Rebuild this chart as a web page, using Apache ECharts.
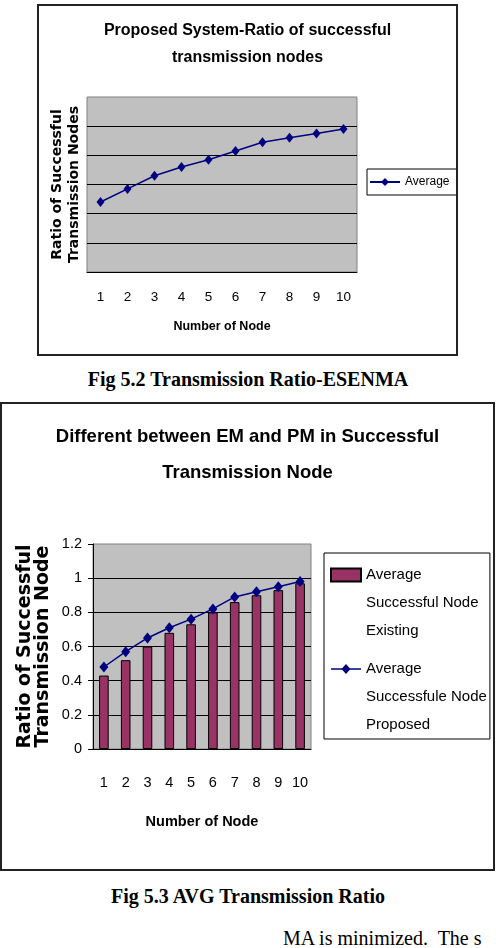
<!DOCTYPE html>
<html>
<head>
<meta charset="utf-8">
<script src="https://cdn.jsdelivr.net/npm/echarts@6/dist/echarts.min.js"></script>
<style>
  html, body { margin: 0; padding: 0; background: #fff; }
  body { width: 496px; height: 948px; position: relative; overflow: hidden; }
  .box { position: absolute; border: 2px solid #222; box-sizing: border-box; background: #fff; }
  #chart1 { left: 37px; top: 4px; width: 421px; height: 352px; }
  #chart2 { left: 0; top: 402px; width: 495px; height: 469px; }
  .caption {
    position: absolute; left: 0; width: 496px; text-align: center;
    font-family: "Liberation Serif", "Times New Roman", serif;
    font-weight: bold; font-size: 20px; line-height: 24px;
  }
  #cap1 { top: 367px; }
  #cap2 { top: 884px; }
  #bodytext {
    position: absolute; left: 283px; top: 926px; white-space: nowrap;
    font-family: "Liberation Serif", "Times New Roman", serif; font-size: 20px; line-height: 24px;
  }
</style>
</head>
<body>
<div id="chart1" class="box"></div>
<div id="cap1" class="caption">Fig 5.2 Transmission Ratio-ESENMA</div>
<div id="chart2" class="box"></div>
<div id="cap2" class="caption">Fig 5.3 AVG Transmission Ratio</div>
<div id="bodytext">MA is minimized.&nbsp; The s</div>
<script>
// 横轴：节点编号
const nodeLabels = ['1', '2', '3', '4', '5', '6', '7', '8', '9', '10'];

// Fig 5.2 提出方案的平均成功率
const proposedAverage = [0.48, 0.57, 0.66, 0.72, 0.77, 0.83, 0.89, 0.92, 0.95, 0.98];

// Fig 5.3 现有方案 / 提出方案
const existingSuccess = [0.43, 0.52, 0.60, 0.68, 0.73, 0.80, 0.86, 0.90, 0.93, 0.97];
const proposedSuccess = [0.48, 0.57, 0.65, 0.71, 0.76, 0.82, 0.89, 0.92, 0.95, 0.98];

// 纵轴范围
const yMin = 0;
const yMax = 1.2;
const yStep = 0.2;

// 字体（没有窄体字，用 Liberation Sans 缩小字号代替）
const sans = '"Liberation Sans", Arial, sans-serif';
const wideBold = '"DejaVu Sans", Verdana, sans-serif';

const lineColor = '#000080';
const barColor = '#993366';
const plotBg = '#c0c0c0';

/**
 * 图1：Proposed System-Ratio of successful transmission nodes
 */
const chart1 = echarts.init(document.getElementById('chart1'), null, { renderer: 'canvas' });
chart1.setOption({
  animation: false,
  title: {
    text: 'Proposed System-Ratio of successful\ntransmission nodes',
    left: 'center',
    top: 11,
    padding: 0,
    textStyle: { fontFamily: sans, fontSize: 16, fontWeight: 'bold', lineHeight: 27, color: '#000' }
  },
  legend: {
    data: ['Average'],
    orient: 'vertical',
    left: 328,
    top: 163,
    padding: [7, 8, 7, 2],
    itemWidth: 30,
    itemHeight: 10,
    borderColor: '#000',
    borderWidth: 1,
    backgroundColor: '#fff',
    textStyle: { fontFamily: sans, fontSize: 12, color: '#000' }
  },
  grid: {
    left: 48, top: 91, width: 270, height: 175,
    show: true, backgroundColor: plotBg, borderColor: '#808080', borderWidth: 1
  },
  xAxis: {
    type: 'category',
    data: nodeLabels,
    name: 'Number of Node',
    nameLocation: 'middle',
    nameGap: 48,
    nameTextStyle: { fontFamily: sans, fontSize: 12.5, fontWeight: 'bold', color: '#000' },
    axisLine: { lineStyle: { color: '#000', width: 1 } },
    axisTick: { length: 5, lineStyle: { color: '#000' } },
    axisLabel: { interval: 0, margin: 18, fontFamily: sans, fontSize: 13.5, color: '#000' }
  },
  yAxis: {
    type: 'value',
    min: yMin, max: yMax, interval: yStep,
    name: 'Ratio of Successful\nTransmission Nodes',
    nameLocation: 'middle',
    nameGap: 4,
    nameTextStyle: { fontFamily: wideBold, fontSize: 14, fontWeight: 'bold', lineHeight: 17, color: '#000' },
    axisLine: { show: false },
    axisTick: { show: false },
    axisLabel: { show: false },
    splitLine: { show: true, showMinLine: false, showMaxLine: false, lineStyle: { color: '#000', width: 1.2 } }
  },
  series: [{
    name: 'Average',
    type: 'line',
    data: proposedAverage,
    symbol: 'diamond',
    symbolSize: [8, 10],
    lineStyle: { color: lineColor, width: 1.5 },
    itemStyle: { color: lineColor, borderWidth: 0 }
  }]
});

/**
 * 图2：Different between EM and PM in Successful Transmission Node
 * 图例文字三行，图标要对齐第一行，所以用自定义 path 图标（高度与三行文字相同）
 */
const legendLine = 28;
const legendItemH = legendLine * 3;
const barIcon = 'path://M0,0M0,' + legendItemH + 'M0,7.5H30V20.5H0Z';
const lineIcon = 'path://M0,0M0,' + legendItemH + 'M0,13.25H30V14.75H0Z M15,9L19.5,14L15,19L10.5,14Z';

const chart2 = echarts.init(document.getElementById('chart2'), null, { renderer: 'canvas' });
chart2.setOption({
  animation: false,
  title: {
    text: 'Different between EM and PM in Successful\nTransmission Node',
    left: 'center',
    top: 15,
    padding: 0,
    textStyle: { fontFamily: sans, fontSize: 18.5, fontWeight: 'bold', lineHeight: 36, color: '#000' }
  },
  legend: {
    orient: 'vertical',
    left: 322,
    top: 149,
    padding: [7, 3, 0, 6],
    itemGap: 9,
    itemWidth: 30,
    itemHeight: legendItemH,
    borderColor: '#000',
    borderWidth: 1,
    backgroundColor: '#fff',
    data: [
      { name: 'Average Successful Node Existing', icon: barIcon },
      { name: 'Average Successfule Node Proposed', icon: lineIcon }
    ],
    formatter: function (name) {
      // 按原图拆成三行
      const parts = name.split(' ');
      return parts[0] + '\n' + parts[1] + ' ' + parts[2] + '\n' + parts[3];
    },
    textStyle: { fontFamily: sans, fontSize: 15, color: '#000', lineHeight: legendLine }
  },
  grid: {
    left: 91, top: 140, width: 218, height: 205,
    show: true, backgroundColor: plotBg, borderColor: '#808080', borderWidth: 1
  },
  xAxis: {
    type: 'category',
    data: nodeLabels,
    name: 'Number of Node',
    nameLocation: 'middle',
    nameGap: 65,
    nameTextStyle: { fontFamily: sans, fontSize: 14.5, fontWeight: 'bold', color: '#000' },
    axisLine: { lineStyle: { color: '#000', width: 1 } },
    axisTick: { length: 5, lineStyle: { color: '#000' } },
    axisLabel: { interval: 0, margin: 26, fontFamily: sans, fontSize: 14.5, color: '#000' }
  },
  yAxis: {
    type: 'value',
    min: yMin, max: yMax, interval: yStep,
    name: 'Ratio of Successful\nTransmission Node',
    nameLocation: 'middle',
    nameGap: 41,
    nameTextStyle: { fontFamily: wideBold, fontSize: 19, fontWeight: 'bold', lineHeight: 18, color: '#000' },
    axisLine: { show: true, lineStyle: { color: '#000', width: 1 } },
    axisTick: { show: true, length: 5, lineStyle: { color: '#000' } },
    axisLabel: { margin: 11, fontFamily: sans, fontSize: 14.5, color: '#000' },
    splitLine: { show: true, showMinLine: false, showMaxLine: false, lineStyle: { color: '#000', width: 1.2 } }
  },
  series: [
    {
      name: 'Average Successful Node Existing',
      type: 'bar',
      data: existingSuccess,
      barWidth: '44%',
      itemStyle: { color: barColor, borderColor: '#000', borderWidth: 1 }
    },
    {
      name: 'Average Successfule Node Proposed',
      type: 'line',
      data: proposedSuccess,
      symbol: 'diamond',
      symbolSize: [9, 11],
      lineStyle: { color: lineColor, width: 1.5 },
      itemStyle: { color: lineColor, borderWidth: 0 },
      z: 3
    }
  ]
});
</script>
</body>
</html>
